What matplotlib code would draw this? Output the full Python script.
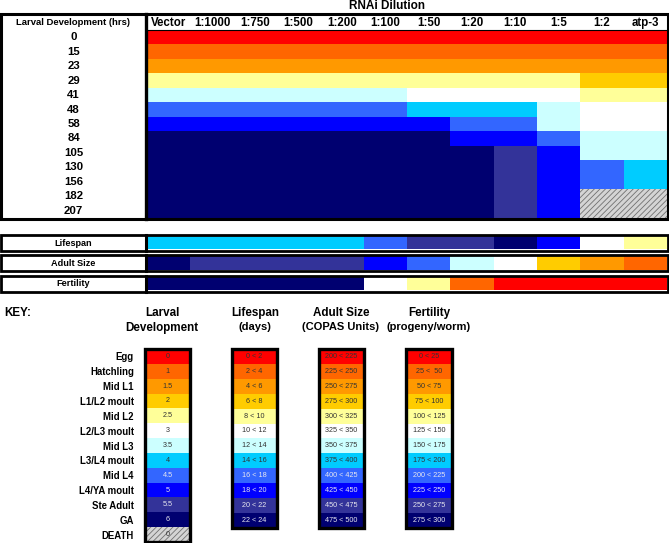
import numpy as np
import matplotlib
matplotlib.use('Agg')
import matplotlib.pyplot as plt
from matplotlib.colors import ListedColormap, BoundaryNorm
from matplotlib.patches import Rectangle

plt.rcParams['font.family'] = ['Liberation Sans', 'DejaVu Sans']
plt.rcParams['hatch.linewidth'] = 0.6

# ---- data ----
dilutions = ['Vector', '1:1000', '1:750', '1:500', '1:200', '1:100',
             '1:50', '1:20', '1:10', '1:5', '1:2', 'atp-3']
dev_hours = [0, 15, 23, 29, 41, 48, 58, 84, 105, 130, 156, 182, 207]

# larval stage level per (hour row, dilution column); 12 = DEATH
larval_stage = [
    [0] * 12,
    [1] * 12,
    [2] * 12,
    [4] * 10 + [3, 3],
    [6] * 6 + [5] * 4 + [4, 4],
    [8] * 6 + [7] * 3 + [6] + [5, 5],
    [9] * 7 + [8] * 2 + [6] + [5, 5],
    [11] * 7 + [9] * 2 + [8] + [6, 6],
    [11] * 8 + [10] + [9] + [6, 6],
    [11] * 8 + [10] + [9] + [8, 7],
    [11] * 8 + [10] + [9] + [8, 7],
    [11] * 8 + [10] + [9] + [12, 12],
    [11] * 8 + [10] + [9] + [12, 12],
]
lifespan_level = [7, 7, 7, 7, 7, 8, 10, 10, 11, 9, 5, 4]
adult_size_level = [11, 10, 10, 10, 10, 9, 8, 6, 5, 3, 2, 1]
fertility_level = [11, 11, 11, 11, 11, 5, 4, 1, 0, 0, 0, 0]

stage_names = ['Egg', 'Hatchling', 'Mid L1', 'L1/L2 moult', 'Mid L2', 'L2/L3 moult',
               'Mid L3', 'L3/L4 moult', 'Mid L4', 'L4/YA moult', 'Ste Adult', 'GA', 'DEATH']
stage_values = ['0', '1', '1.5', '2', '2.5', '3', '3.5', '4', '4.5', '5', '5.5', '6', '0']
lifespan_bins = ['0 < 2', '2 < 4', '4 < 6', '6 < 8', '8 < 10', '10 < 12',
                 '12 < 14', '14 < 16', '16 < 18', '18 < 20', '20 < 22', '22 < 24']
size_bins = ['200 < 225', '225 < 250', '250 < 275', '275 < 300', '300 < 325', '325 < 350',
             '350 < 375', '375 < 400', '400 < 425', '425 < 450', '450 < 475', '475 < 500']
fertility_bins = ['0 < 25', '25 <  50', '50 < 75', '75 < 100', '100 < 125', '125 < 150',
                  '150 < 175', '175 < 200', '200 < 225', '225 < 250', '250 < 275', '275 < 300']

level_colors = ['#FF0000', '#FF6600', '#FF9900', '#FFCC00', '#FFFF99', '#FFFFFF',
                '#CCFFFF', '#00CCFF', '#3366FF', '#0000FF', '#333399', '#000070', '#D4D4D4']
DEATH = 12

cmap = ListedColormap(level_colors)
norm = BoundaryNorm(np.arange(-0.5, len(level_colors) + 0.5), len(level_colors))

W, H = 669, 543
fig = plt.figure(figsize=(W / 100, H / 100), dpi=100)


def px_axes(x0, y0, x1, y1):
    return fig.add_axes([x0 / W, 1 - y1 / H, (x1 - x0) / W, (y1 - y0) / H])


def draw_cells(ax, grid):
    grid = np.asarray(grid)
    ax.imshow(grid, cmap=cmap, norm=norm, aspect='auto', interpolation='nearest')
    for r, c in np.argwhere(grid == DEATH):
        ax.add_patch(Rectangle((c - 0.5, r - 0.5), 1, 1, facecolor='#d4d4d4',
                               edgecolor='#707070', hatch='//////', lw=0))
    ax.set_xticks([])
    ax.set_yticks([])
    for s in ax.spines.values():
        s.set_visible(False)


# overlay axes in pixel coordinates for text and borders
bg = px_axes(0, 0, W, H)
bg.set_xlim(0, W)
bg.set_ylim(H, 0)
bg.axis('off')
bg.patch.set_visible(False)
bg.set_zorder(10)

# ---- main heatmap ----
hm = px_axes(147, 30, 667, 218)
draw_cells(hm, larval_stage)

hdr = px_axes(147, 14, 667, 30)
hdr.set_xlim(-0.5, len(dilutions) - 0.5)
hdr.set_ylim(0, 1)
hdr.axis('off')
for j, lab in enumerate(dilutions):
    hdr.text(j, 0.45, lab, ha='center', va='center', fontsize=8.3, weight='bold')

rows = px_axes(1, 30, 146, 218)
rows.set_ylim(len(dev_hours) - 0.5, -0.5)
rows.set_xlim(0, 1)
rows.axis('off')
for i, h in enumerate(dev_hours):
    rows.text(0.5, i, str(h), ha='center', va='center', fontsize=8.2, weight='bold')

bg.text(387, 6, 'RNAi Dilution', ha='center', va='center', fontsize=8.5, weight='bold')
bg.text(73, 22.5, 'Larval Development (hrs)', ha='center', va='center', fontsize=6.8, weight='bold')
bg.add_patch(Rectangle((1, 14), 667, 205, fill=False, lw=2.2, ec='black'))
bg.plot([146, 146], [14, 219], color='black', lw=2.4)
bg.plot([146, 668], [30, 30], color='black', lw=0.8)

# ---- phenotype bars ----
bars = [('Lifespan', lifespan_level, 234.5, 250.5),
        ('Adult Size', adult_size_level, 255, 271),
        ('Fertility', fertility_level, 275.5, 291.5)]
for name, levels, y0, y1 in bars:
    ax = px_axes(147, y0 + 1, 667, y1 - 1)
    draw_cells(ax, [levels])
    bg.add_patch(Rectangle((1, y0), 667, y1 - y0, fill=False, lw=2.0, ec='black'))
    bg.plot([146, 146], [y0, y1], color='black', lw=2.2)
    bg.text(73, (y0 + y1) / 2 + 0.5, name, ha='center', va='center', fontsize=6.6, weight='bold')

# ---- key ----
bg.text(4, 313, 'KEY:', ha='left', va='center', fontsize=8.4, weight='bold')
titles = [(162, 'Larval', 'Development'), (255, 'Lifespan', '(days)'),
          (341, 'Adult Size', '(COPAS Units)'), (429, 'Fertility', '(progeny/worm)')]
for x, t1, t2 in titles:
    bg.text(x, 313, t1, ha='center', va='center', fontsize=8.4, weight='bold')
    bg.text(x, 327.5, t2, ha='center', va='center', fontsize=8.0 if t1 != 'Larval' else 8.4,
            weight='bold')

row_h = 14.9
keys = [(145, 190, stage_values, stage_names),
        (232, 277, lifespan_bins, None),
        (319, 364, size_bins, None),
        (406, 452, fertility_bins, None)]
for x0, x1, texts, names in keys:
    n = len(texts)
    y0, y1 = 349, 349 + n * row_h
    y1 = min(y1, H - 1)
    ax = px_axes(x0, y0, x1, y1)
    lv = np.arange(n).reshape(-1, 1)
    draw_cells(ax, lv)
    for i, t in enumerate(texts):
        ax.text(0, i, t, ha='center', va='center', fontsize=5.2,
                color='#e8e8f0' if 8 <= i < DEATH else '#333333')
    if names is not None:
        ax.set_yticks(range(n), labels=names)
        ax.tick_params(axis='y', length=0, pad=8)
        for lab in ax.get_yticklabels():
            lab.set_fontsize(6.9)
            lab.set_fontweight('bold')
    bg.add_patch(Rectangle((x0, y0), x1 - x0, y1 - y0, fill=False, lw=2.4, ec='black'))

fig.savefig('out.png', dpi=100)
